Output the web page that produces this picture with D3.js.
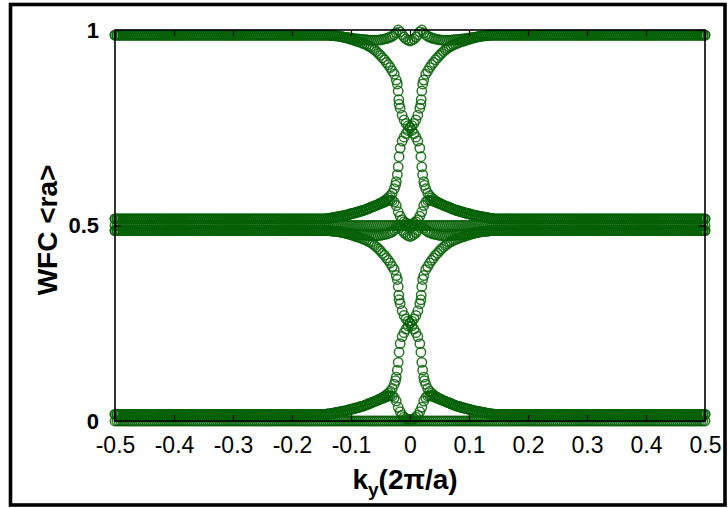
<!DOCTYPE html>
<html>
<head>
<meta charset="utf-8">
<script src="https://cdn.jsdelivr.net/npm/d3@7"></script>
<style>
  html, body { margin: 0; padding: 0; background: #fff; }
  svg { display: block; }
</style>
</head>
<body>
<svg id="chart" width="728" height="508"></svg>
<script>
// ---- data -------------------------------------------------------------
// ky is sampled on a uniform grid of 301 points: ky_j = -0.5 + j / 300
const kyDivisions = 300;
// grid indices covered by the explicit samples around ky = 0 (ky = -0.14 ... 0.14)
const centerFirst = 108;
const centerLast = 192;

const kyTicks = [-0.5, -0.4, -0.3, -0.2, -0.1, 0, 0.1, 0.2, 0.3, 0.4, 0.5];
const wfcTicks = [0, 0.5, 1];

// Wannier function centre of each band away from ky = 0 (left side / right side)
const bandLevelLeft  = [0.987, 0.517, 0.987, 0.517, 0.5, 0.487, 0.017, 0.487, 0.017, 0.0];
const bandLevelRight = [0.517, 0.987, 0.987, 0.517, 0.5, 0.017, 0.487, 0.487, 0.017, 0.0];

// WFC on the grid points from ky = -0.14 to ky = 0.14 (85 values per band)
const centerA = [
  0.987,0.987,0.986,0.986,0.985,0.985,0.984,0.983,0.982,0.981,
  0.979,0.978,0.976,0.975,0.973,0.971,0.970,0.968,0.966,0.964,
  0.962,0.959,0.957,0.953,0.949,0.945,0.940,0.935,0.929,0.924,
  0.917,0.911,0.904,0.895,0.887,0.872,0.844,0.800,0.782,0.770,
  0.761,0.755,0.750,
  0.743,0.735,0.726,0.716,0.698,0.650,0.612,0.594,0.583,0.576,
  0.571,0.567,0.563,0.560,0.557,0.555,0.552,0.550,0.548,0.546,
  0.544,0.542,0.540,0.538,0.537,0.535,0.534,0.533,0.531,0.530,
  0.529,0.527,0.526,0.525,0.524,0.523,0.522,0.521,0.520,0.519,
  0.518,0.518
];
const centerB = [
  0.518,0.518,0.519,0.520,0.521,0.522,0.523,0.524,0.525,0.526,
  0.527,0.529,0.530,0.531,0.533,0.534,0.535,0.537,0.538,0.540,
  0.542,0.544,0.546,0.548,0.550,0.552,0.555,0.557,0.560,0.563,
  0.567,0.571,0.576,0.583,0.594,0.612,0.650,0.698,0.716,0.726,
  0.735,0.743,0.750,
  0.755,0.761,0.770,0.782,0.800,0.844,0.872,0.887,0.895,0.904,
  0.911,0.917,0.924,0.929,0.935,0.940,0.945,0.949,0.953,0.957,
  0.959,0.962,0.964,0.966,0.968,0.970,0.971,0.973,0.975,0.976,
  0.978,0.979,0.981,0.982,0.983,0.984,0.985,0.985,0.986,0.986,
  0.987,0.987
];
const centerC = [
  0.987,0.987,0.986,0.986,0.985,0.985,0.984,0.983,0.982,0.981,
  0.981,0.980,0.979,0.979,0.978,0.977,0.977,0.976,0.976,0.975,
  0.975,0.974,0.974,0.974,0.974,0.974,0.974,0.975,0.976,0.977,
  0.978,0.980,0.982,0.984,0.988,0.993,1.000,0.995,0.988,0.982,
  0.977,0.974,0.972,
  0.974,0.977,0.982,0.988,0.995,1.000,0.993,0.988,0.984,0.982,
  0.980,0.978,0.977,0.976,0.975,0.974,0.974,0.974,0.974,0.974,
  0.974,0.975,0.975,0.976,0.976,0.977,0.977,0.978,0.979,0.979,
  0.980,0.981,0.981,0.982,0.983,0.984,0.985,0.985,0.986,0.986,
  0.987,0.987
];
const centerD = [
  0.518,0.518,0.519,0.520,0.521,0.522,0.523,0.524,0.525,0.526,
  0.527,0.528,0.530,0.531,0.532,0.534,0.535,0.537,0.538,0.540,
  0.542,0.544,0.546,0.548,0.550,0.552,0.554,0.556,0.558,0.560,
  0.562,0.564,0.565,0.564,0.560,0.551,0.535,0.524,0.515,0.510,
  0.506,0.504,0.503,
  0.504,0.506,0.510,0.515,0.524,0.535,0.551,0.560,0.564,0.565,
  0.564,0.562,0.560,0.558,0.556,0.554,0.552,0.550,0.548,0.546,
  0.544,0.542,0.540,0.538,0.537,0.535,0.534,0.532,0.531,0.530,
  0.528,0.527,0.526,0.525,0.524,0.523,0.522,0.521,0.520,0.519,
  0.518,0.518
];
const centerE = [];
const centerA2 = [
  0.487,0.487,0.486,0.486,0.485,0.485,0.484,0.483,0.482,0.481,
  0.479,0.478,0.476,0.475,0.473,0.471,0.470,0.468,0.466,0.464,
  0.462,0.459,0.457,0.453,0.449,0.445,0.440,0.435,0.429,0.424,
  0.417,0.411,0.404,0.395,0.387,0.372,0.344,0.300,0.282,0.270,
  0.261,0.255,0.250,
  0.243,0.235,0.226,0.216,0.198,0.150,0.112,0.094,0.083,0.076,
  0.071,0.067,0.063,0.060,0.057,0.055,0.052,0.050,0.048,0.046,
  0.044,0.042,0.040,0.038,0.037,0.035,0.034,0.033,0.031,0.030,
  0.029,0.027,0.026,0.025,0.024,0.023,0.022,0.021,0.020,0.019,
  0.018,0.018
];
const centerB2 = [
  0.018,0.018,0.019,0.020,0.021,0.022,0.023,0.024,0.025,0.026,
  0.027,0.029,0.030,0.031,0.033,0.034,0.035,0.037,0.038,0.040,
  0.042,0.044,0.046,0.048,0.050,0.052,0.055,0.057,0.060,0.063,
  0.067,0.071,0.076,0.083,0.094,0.112,0.150,0.198,0.216,0.226,
  0.235,0.243,0.250,
  0.255,0.261,0.270,0.282,0.300,0.344,0.372,0.387,0.395,0.404,
  0.411,0.417,0.424,0.429,0.435,0.440,0.445,0.449,0.453,0.457,
  0.459,0.462,0.464,0.466,0.468,0.470,0.471,0.473,0.475,0.476,
  0.478,0.479,0.481,0.482,0.483,0.484,0.485,0.485,0.486,0.486,
  0.487,0.487
];
const centerC2 = [
  0.487,0.487,0.486,0.486,0.485,0.485,0.484,0.483,0.482,0.481,
  0.481,0.480,0.479,0.479,0.478,0.477,0.477,0.476,0.476,0.475,
  0.475,0.474,0.474,0.474,0.474,0.474,0.474,0.475,0.476,0.477,
  0.478,0.480,0.482,0.484,0.488,0.493,0.500,0.495,0.488,0.482,
  0.477,0.474,0.472,
  0.474,0.477,0.482,0.488,0.495,0.500,0.493,0.488,0.484,0.482,
  0.480,0.478,0.477,0.476,0.475,0.474,0.474,0.474,0.474,0.474,
  0.474,0.475,0.475,0.476,0.476,0.477,0.477,0.478,0.479,0.479,
  0.480,0.481,0.481,0.482,0.483,0.484,0.485,0.485,0.486,0.486,
  0.487,0.487
];
const centerD2 = [
  0.018,0.018,0.019,0.020,0.021,0.022,0.023,0.024,0.025,0.026,
  0.027,0.028,0.030,0.031,0.032,0.034,0.035,0.037,0.038,0.040,
  0.042,0.044,0.046,0.048,0.050,0.052,0.054,0.056,0.058,0.060,
  0.062,0.064,0.065,0.064,0.060,0.051,0.035,0.024,0.015,0.010,
  0.006,0.004,0.003,
  0.004,0.006,0.010,0.015,0.024,0.035,0.051,0.060,0.064,0.065,
  0.064,0.062,0.060,0.058,0.056,0.054,0.052,0.050,0.048,0.046,
  0.044,0.042,0.040,0.038,0.037,0.035,0.034,0.032,0.031,0.030,
  0.028,0.027,0.026,0.025,0.024,0.023,0.022,0.021,0.020,0.019,
  0.018,0.018
];
const centerE2 = [];

// additional samples on the steep parts of the crossing bands, [ky, WFC]
const steepA  = [[-0.0215,0.862],[-0.0190,0.822],[-0.0185,0.810],[0.0185,0.676],[0.0215,0.630],[0.0245,0.603]];
const steepB  = [[-0.0245,0.603],[-0.0215,0.630],[-0.0185,0.676],[0.0185,0.810],[0.0190,0.822],[0.0215,0.862]];
const steepA2 = [[-0.0215,0.362],[-0.0190,0.322],[-0.0185,0.310],[0.0185,0.176],[0.0215,0.130],[0.0245,0.103]];
const steepB2 = [[-0.0245,0.103],[-0.0215,0.130],[-0.0185,0.176],[0.0185,0.310],[0.0190,0.322],[0.0215,0.362]];

const bandCenters = [centerA, centerB, centerC, centerD, centerE,
                     centerA2, centerB2, centerC2, centerD2, centerE2];
const bandSteep = [steepA, steepB, [], [], [], steepA2, steepB2, [], [], []];

// ---- layout -----------------------------------------------------------
const plot = { left: 115, right: 705, top: 30, bottom: 421 };
const font = "'Liberation Sans', Arial, Helvetica, sans-serif";
const green = "#076207";

const svg = d3.select("#chart");

const x = d3.scaleLinear().domain([-0.5, 0.5]).range([plot.left, plot.right]);
const y = d3.scaleLinear().domain([0, 1]).range([plot.bottom, plot.top]);

// assemble the full set of points for every band
const points = [];
bandCenters.forEach((center, b) => {
  for (let j = 0; j <= kyDivisions; j++) {
    const ky = -0.5 + j / kyDivisions;
    let v;
    if (j < centerFirst) v = bandLevelLeft[b];
    else if (j > centerLast) v = bandLevelRight[b];
    else v = center.length ? center[j - centerFirst] : bandLevelLeft[b];
    points.push([ky, v]);
  }
  bandSteep[b].forEach(p => points.push(p));
});

// outer frame
svg.append("rect")
  .attr("x", 10.5).attr("y", 4.5)
  .attr("width", 714.5).attr("height", 500.5)
  .attr("fill", "none").attr("stroke", "#000").attr("stroke-width", 3.6);

// open circle markers
svg.append("g")
  .selectAll("circle")
  .data(points)
  .join("circle")
  .attr("cx", d => x(d[0]))
  .attr("cy", d => y(d[1]))
  .attr("r", 4.7)
  .attr("fill", "none")
  .attr("stroke", green)
  .attr("stroke-width", 1.5)
  .attr("stroke-opacity", 0.85);

// axes with inward ticks, mirrored on top and right
const kyFmt = d => String(+d.toFixed(1));
const wfcFmt = d => String(d);

const gBottom = svg.append("g")
  .attr("transform", `translate(0,${plot.bottom})`)
  .call(d3.axisBottom(x).tickValues(kyTicks).tickSize(-6).tickPadding(16).tickFormat(kyFmt));
gBottom.selectAll("text").attr("font-size", 23).attr("font-family", font).attr("fill", "#000");

const gTop = svg.append("g")
  .attr("transform", `translate(0,${plot.top})`)
  .call(d3.axisTop(x).tickValues(kyTicks).tickSize(-6).tickFormat(""));

const gLeft = svg.append("g")
  .attr("transform", `translate(${plot.left},0)`)
  .call(d3.axisLeft(y).tickValues(wfcTicks).tickSize(-6).tickPadding(16).tickFormat(wfcFmt));
gLeft.selectAll("text").attr("font-size", 22).attr("font-weight", "bold")
  .attr("font-family", font).attr("fill", "#000");

const gRight = svg.append("g")
  .attr("transform", `translate(${plot.right},0)`)
  .call(d3.axisRight(y).tickValues(wfcTicks).tickSize(-6).tickFormat(""));

[gBottom, gTop, gLeft, gRight].forEach(g => {
  g.select(".domain").remove();
  g.selectAll(".tick line").attr("stroke", "#000").attr("stroke-width", 1.2);
});

// plot box
svg.append("rect")
  .attr("x", plot.left).attr("y", plot.top)
  .attr("width", plot.right - plot.left).attr("height", plot.bottom - plot.top)
  .attr("fill", "none").attr("stroke", "#000").attr("stroke-width", 1.6);

// axis titles
const xTitle = svg.append("text")
  .attr("x", 405).attr("y", 489)
  .attr("text-anchor", "middle")
  .attr("font-family", font).attr("font-weight", "bold").attr("font-size", 28)
  .attr("fill", "#000");
xTitle.append("tspan").text("k");
xTitle.append("tspan").attr("font-size", 19).attr("dy", 7).text("y");
xTitle.append("tspan").attr("dy", -7).text("(2π/a)");

svg.append("text")
  .attr("transform", `translate(57,230) rotate(-90)`)
  .attr("text-anchor", "middle")
  .attr("font-family", font).attr("font-weight", "bold").attr("font-size", 28)
  .attr("fill", "#000")
  .text("WFC <ra>");
</script>
</body>
</html>
